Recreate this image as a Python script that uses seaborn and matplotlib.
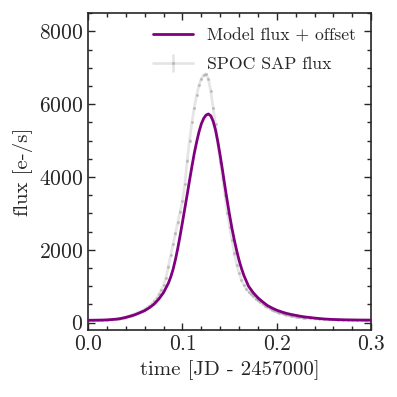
import numpy as np
import pandas as pd
import matplotlib
matplotlib.use("Agg")
import matplotlib.pyplot as plt
import seaborn as sns
from matplotlib.ticker import MultipleLocator

# Model flux + offset (time in days, flux in e-/s)
model_time = [0.000, 0.005, 0.010, 0.015, 0.020, 0.025, 0.030, 0.035, 0.040, 0.045,
              0.050, 0.055, 0.060, 0.065, 0.070, 0.075, 0.080, 0.085, 0.0875, 0.090,
              0.0925, 0.095, 0.0975, 0.100, 0.1025, 0.105, 0.1075, 0.110, 0.1125, 0.115,
              0.1175, 0.120, 0.1225, 0.125, 0.1275, 0.130, 0.1325, 0.135, 0.1375, 0.140,
              0.1425, 0.145, 0.1475, 0.150, 0.1525, 0.155, 0.1575, 0.160, 0.1625, 0.165,
              0.170, 0.175, 0.180, 0.185, 0.190, 0.195,
              0.200, 0.205, 0.210, 0.215, 0.220, 0.225, 0.230, 0.235, 0.240, 0.245,
              0.250, 0.255, 0.260, 0.265, 0.270, 0.275, 0.280, 0.285, 0.290, 0.295, 0.300]
model_flux = [65, 66, 68, 70, 75, 85, 95, 115, 145, 180,
              220, 275, 330, 410, 510, 650, 830, 1080, 1250, 1460,
              1730, 2040, 2390, 2760, 3140, 3520, 3910, 4290, 4650, 4960,
              5240, 5460, 5610, 5700, 5730, 5680, 5530, 5290, 4960, 4580,
              4170, 3740, 3330, 2940, 2580, 2260, 1970, 1710, 1490, 1300,
              1000, 820, 680, 570, 470, 400,
              340, 295, 255, 225, 200, 175, 155, 140, 125, 112,
              100, 92, 86, 82, 78, 75, 73, 71, 70, 69, 68]

# SPOC SAP flux points
sap_time = [0.000, 0.005, 0.010, 0.015, 0.020, 0.025,
            0.0300, 0.0325, 0.0350, 0.0375, 0.0400, 0.0425, 0.0450, 0.0475, 0.0500, 0.0525,
            0.0550, 0.0575, 0.0600, 0.0625, 0.0650, 0.0675, 0.0700, 0.0725, 0.0750, 0.0775,
            0.0800, 0.0825, 0.0850, 0.0875, 0.0900, 0.0925, 0.0950, 0.0975, 0.1000, 0.1025,
            0.1050, 0.1075, 0.1100, 0.1125, 0.1150, 0.1175, 0.1200, 0.1225, 0.1250, 0.1275,
            0.1300, 0.1325, 0.1350, 0.1375, 0.1400, 0.1425, 0.1450, 0.1475, 0.1500, 0.1525,
            0.1550, 0.1575, 0.1600, 0.1625, 0.1650, 0.1675, 0.1700, 0.1725, 0.1750, 0.1775,
            0.1800, 0.1825, 0.1850, 0.1875, 0.1900, 0.1925, 0.1950, 0.1975, 0.2000, 0.2025,
            0.2050, 0.2075, 0.2100, 0.2125, 0.2150, 0.2175, 0.2200, 0.2225, 0.2250, 0.2275,
            0.2300, 0.235, 0.240, 0.245, 0.250, 0.255, 0.260, 0.265, 0.270, 0.275,
            0.280, 0.285, 0.290, 0.295, 0.300]
sap_flux = [60, 62, 65, 70, 78, 88,
            100, 110, 120, 135, 150, 170, 195, 220, 245, 275,
            300, 330, 370, 410, 460, 520, 590, 680, 780, 900,
            1040, 1230, 1540, 1850, 2150, 2450, 2750, 3050, 3350, 3800,
            4450, 5000, 5500, 5900, 6250, 6520, 6700, 6800, 6830, 6680,
            6350, 5900, 5450, 4900, 4420, 3950, 3500, 3020, 2620, 2260,
            1900, 1580, 1360, 1180, 1030, 930, 850, 780, 720, 660,
            610, 560, 510, 470, 430, 390, 360, 330, 300, 275,
            255, 235, 215, 200, 185, 175, 165, 155, 145, 138,
            130, 122, 115, 108, 100, 94, 89, 85, 82, 79,
            77, 75, 73, 72, 71]
sap_err = [30] * len(sap_flux)

sns.set_style("ticks")
plt.rcParams["font.family"] = "serif"
plt.rcParams["font.serif"] = ["cmr10", "DejaVu Serif"]
plt.rcParams["mathtext.fontset"] = "cm"
plt.rcParams["axes.formatter.use_mathtext"] = True
plt.rcParams["axes.unicode_minus"] = False

fig = plt.figure(figsize=(3.97, 3.97), dpi=100)
ax = fig.add_axes([0.222, 0.169, 0.713, 0.798])

model_df = pd.DataFrame({"time": model_time, "flux": model_flux})
sns.lineplot(data=model_df, x="time", y="flux", ax=ax, color="purple", lw=2,
             label="Model flux + offset", zorder=3)
ax.errorbar(sap_time, sap_flux, yerr=sap_err, color="gray", alpha=0.2, lw=2,
            marker=".", ms=2.5, label="SPOC SAP flux", zorder=2)

ax.set_xlim(0, 0.3)
ax.set_ylim(-200, 8500)
ax.xaxis.set_major_locator(MultipleLocator(0.1))
ax.xaxis.set_minor_locator(MultipleLocator(0.02))
ax.yaxis.set_major_locator(MultipleLocator(2000))
ax.yaxis.set_minor_locator(MultipleLocator(500))
ax.tick_params(which="both", direction="in", top=True, right=True, labelsize=15.5, width=1)
ax.tick_params(which="major", length=5)
ax.tick_params(which="minor", length=3)
for s in ax.spines.values():
    s.set_linewidth(1.2)

ax.set_xlabel("time [JD - 2457000]", fontsize=15)
ax.set_ylabel("flux [e-/s]", fontsize=15)
ax.legend(loc="upper right", frameon=False, fontsize=12.7, handlelength=2.3,
          borderaxespad=0.45, labelspacing=0.75)

fig.savefig("out.png", dpi=100)
